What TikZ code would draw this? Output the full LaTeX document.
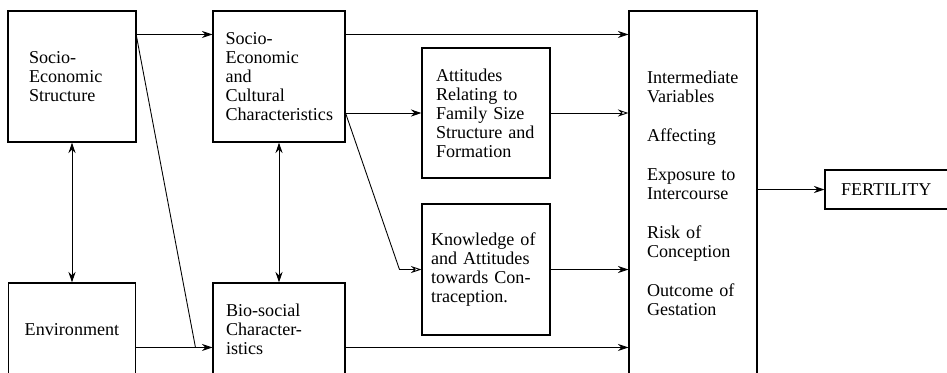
\documentclass[tikz,border=0pt]{standalone}
\usepackage{fontspec}
\setmainfont{Liberation Serif}
\usetikzlibrary{arrows.meta, positioning}

\begin{document}
\begin{tikzpicture} [node distance = 4.14cm, on grid,
	box/.style = {draw, line width=0.6pt, align=left, inner sep=0pt,
		font=\fontsize{10.3}{10.8}\selectfont},
	arr/.style = {-{Stealth[length=6pt, width=4pt]}, line width=0.5pt},
	oarr/.style = {-{Stealth[open, length=6pt, width=4pt]}, line width=0.5pt},
	both/.style = {{Stealth[length=6pt, width=4pt]}-{Stealth[length=6pt, width=4pt]}, line width=0.5pt}]

\clip (-1.44,1.53) rectangle (17.5,-5.91);

\node (ses) [box, minimum width=2.56cm, minimum height=2.62cm, text width=1.72cm] {Socio-\\Economic\\Structure};
\node (secc) [box, right = of ses, minimum width=2.64cm, minimum height=2.62cm, text width=2.14cm] {Socio-\\Economic\\and\\Cultural\\Characteristics};
\node (env) [box, below = 5.06cm of ses, align=center, minimum width=2.54cm, minimum height=1.86cm] {Environment};
\node (bio) [box, below = 5.06cm of secc, minimum width=2.64cm, minimum height=1.86cm, text width=2.12cm] {Bio-social\\Character-\\istics};
\node (att) [box, below right = 0.73cm and 4.14cm of secc, minimum width=2.56cm, minimum height=2.6cm, text width=2.0cm] {Attitudes\\Relating to\\Family Size\\Structure and\\Formation};
\node (know) [box, below = 3.13cm of att, minimum width=2.56cm, minimum height=2.62cm, text width=2.2cm] {Knowledge of\\and Attitudes\\towards Con-\\traception.};
\node (inter) [box, below right = 1.61cm and 4.14cm of att, minimum width=2.56cm, minimum height=7.3cm, text width=1.84cm] {Intermediate\\Variables\\[0.4cm]Affecting\\[0.4cm]Exposure to\\Intercourse\\[0.4cm]Risk of\\Conception\\[0.4cm]Outcome of\\Gestation};
\node (fert) [box, above right = 0.08cm and 4.04cm of inter, minimum width=2.8cm, minimum height=0.78cm, text width=2.16cm] {FERTILITY};

\coordinate (join) at ([xshift=-0.34cm, yshift=-1.3cm]bio.north west);
\coordinate (envout) at ([yshift=-1.3cm]env.north east);
\coordinate (bioout) at ([yshift=-1.3cm]bio.north east);
\coordinate (seccout) at (secc.east |- att.west);
\coordinate (bend) at ([xshift=-0.44cm]know.west);

\draw [arr] ([yshift=-0.48cm]ses.north east) -- ([yshift=-0.48cm]secc.north west);
\draw [line width=0.5pt] ([yshift=-0.52cm]ses.north east) -- (join);
\draw [arr] (envout) -- (envout -| bio.west);
\draw [both] (ses.south) -- (env.north);
\draw [both] (secc.south) -- (bio.north);
\draw [arr] ([yshift=-0.48cm]secc.north east) -- ([yshift=-0.48cm]inter.north west);
\draw [arr] (seccout) -- (att.west);
\draw [oarr] (seccout) -- (bend) -- (know.west);
\draw [oarr] (att.east) -- (att.east -| inter.west);
\draw [arr] (know.east) -- (know.east -| inter.west);
\draw [arr] (bioout) -- (bioout -| inter.west);
\draw [arr] (fert.west -| inter.east) -- (fert.west);
\end{tikzpicture}
\end{document}
